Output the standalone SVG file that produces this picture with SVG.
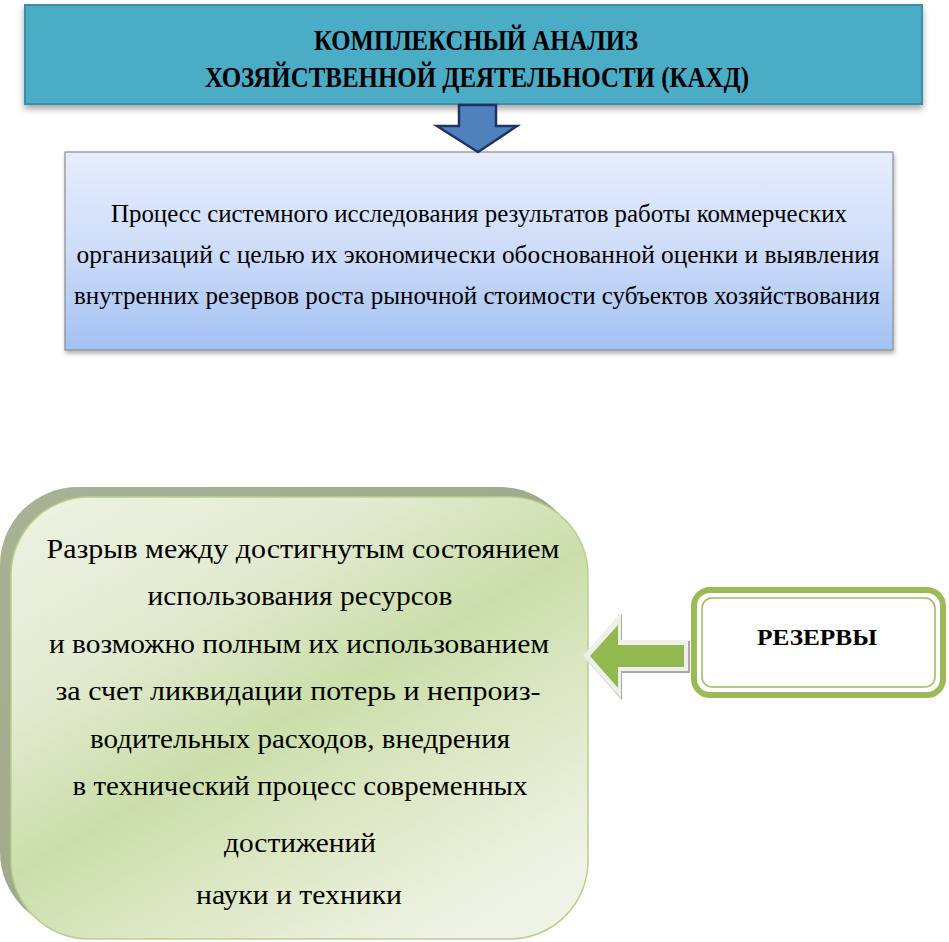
<svg xmlns="http://www.w3.org/2000/svg" width="949" height="942" viewBox="0 0 949 942">
<defs>
<style>
text{font-family:'Liberation Serif','DejaVu Serif',serif;fill:#000;text-anchor:middle}
.title{font-weight:bold;font-size:29px}
.mid{font-size:26px}
.big{font-size:28px}
.res{font-weight:bold;font-size:24px}
</style>
<filter id="sh" x="-5%" y="-10%" width="110%" height="130%">
<feDropShadow dx="0" dy="4" stdDeviation="3" flood-color="#000" flood-opacity="0.35"/>
</filter>
<filter id="sh2" x="-5%" y="-10%" width="110%" height="125%">
<feDropShadow dx="1" dy="3" stdDeviation="2" flood-color="#000" flood-opacity="0.3"/>
</filter>
<linearGradient id="blueg" x1="0" y1="0" x2="0" y2="1">
<stop offset="0" stop-color="#e6eefd"/>
<stop offset="0.5" stop-color="#cddcf9"/>
<stop offset="1" stop-color="#a3c1f4"/>
</linearGradient>
<linearGradient id="greeng" x1="0" y1="0" x2="0.75" y2="1">
<stop offset="0" stop-color="#eef2e3"/>
<stop offset="0.3" stop-color="#e3ebd2"/>
<stop offset="0.55" stop-color="#cbdeaa"/>
<stop offset="0.8" stop-color="#e1eacc"/>
<stop offset="1" stop-color="#eef3e6"/>
</linearGradient>
<linearGradient id="backg" x1="0" y1="0" x2="1" y2="1">
<stop offset="0" stop-color="#a9b294"/>
<stop offset="1" stop-color="#97a382"/>
</linearGradient>
</defs>

<g id="node-kahd">
<rect x="25" y="5" width="897" height="99" fill="#4bacc6" stroke="#3a8ea6" stroke-width="2" filter="url(#sh)"/>
<text class="title" x="476" y="50" textLength="324" lengthAdjust="spacingAndGlyphs">КОМПЛЕКСНЫЙ АНАЛИЗ</text>
<text class="title" x="477" y="87" textLength="544" lengthAdjust="spacingAndGlyphs">ХОЗЯЙСТВЕННОЙ ДЕЯТЕЛЬНОСТИ (КАХД)</text>
</g>

<g id="node-definition">
<rect x="65" y="152" width="828" height="198" fill="url(#blueg)" stroke="#8c8c8c" stroke-width="1.2" filter="url(#sh2)"/>
<text class="mid" x="479" y="222" textLength="736" lengthAdjust="spacingAndGlyphs">Процесс системного исследования результатов работы коммерческих</text>
<text class="mid" x="478" y="263" textLength="803" lengthAdjust="spacingAndGlyphs">организаций с целью  их экономически обоснованной оценки и выявления</text>
<text class="mid" x="477" y="304" textLength="806" lengthAdjust="spacingAndGlyphs">внутренних резервов роста рыночной стоимости  субъектов хозяйствования</text>
</g>

<g id="node-gap">
<rect x="0" y="487" width="578" height="443" rx="78" ry="78" fill="url(#backg)"/>
<rect x="11" y="497" width="577" height="442" rx="78" ry="78" fill="url(#greeng)" stroke="#b9cf8e" stroke-width="1.5"/>
<text class="big" x="303" y="558" textLength="513" lengthAdjust="spacingAndGlyphs">Разрыв между достигнутым состоянием</text>
<text class="big" x="300" y="605" textLength="305" lengthAdjust="spacingAndGlyphs">использования ресурсов</text>
<text class="big" x="299" y="653" textLength="500" lengthAdjust="spacingAndGlyphs">и возможно полным их использованием</text>
<text class="big" x="298" y="700" textLength="485" lengthAdjust="spacingAndGlyphs">за счет ликвидации потерь и непроиз-</text>
<text class="big" x="300" y="748" textLength="420" lengthAdjust="spacingAndGlyphs">водительных расходов, внедрения</text>
<text class="big" x="300" y="795" textLength="455" lengthAdjust="spacingAndGlyphs">в технический процесс современных</text>
<text class="big" x="300" y="852" textLength="152" lengthAdjust="spacingAndGlyphs">достижений</text>
<text class="big" x="299" y="904" textLength="206" lengthAdjust="spacingAndGlyphs">науки и техники</text>
</g>

<g id="node-reserves">
<rect x="694" y="590" width="249" height="105" rx="16" ry="16" fill="#fff" stroke="#9bbb59" stroke-width="6"/>
<rect x="702" y="598" width="233" height="89" rx="10" ry="10" fill="none" stroke="#9bbb59" stroke-width="1.5"/>
<text class="res" x="817" y="645" textLength="120" lengthAdjust="spacingAndGlyphs">РЕЗЕРВЫ</text>
</g>

<g id="connectors">
<path d="M459,105 L496,105 L496,126 L517,126 L478,152 L437,126 L459,126 Z" fill="#4f81bd" stroke="#1f3560" stroke-width="2.5" stroke-linejoin="miter"/>
<path d="M584,657 L622,614 L622,641 L690,641 L690,673 L622,673 L622,700 Z" fill="#a9aaa6"/>
<path d="M583,656 L621,612 L621,640 L688,640 L688,671 L621,671 L621,698 Z" fill="#eef0ea"/>
<path d="M590,656 L618,625 L618,645 L684,645 L684,667 L618,667 L618,688 Z" fill="#92b850"/>
</g>
</svg>
